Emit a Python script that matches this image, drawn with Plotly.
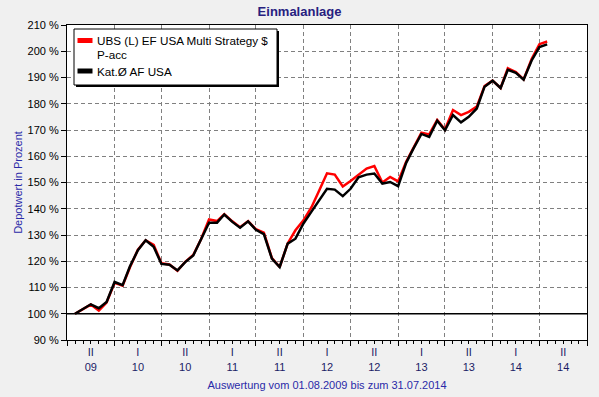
import plotly.graph_objects as go

# ---- data (month-start sampling) ----
dates = [
    "2009-08-01", "2009-09-01", "2009-10-01", "2009-11-01", "2009-12-01",
    "2010-01-01", "2010-02-01", "2010-03-01", "2010-04-01", "2010-05-01", "2010-06-01",
    "2010-07-01", "2010-08-01", "2010-09-01", "2010-10-01", "2010-11-01", "2010-12-01",
    "2011-01-01", "2011-02-01", "2011-03-01", "2011-04-01", "2011-05-01", "2011-06-01",
    "2011-07-01", "2011-08-01", "2011-09-01", "2011-10-01", "2011-11-01", "2011-12-01",
    "2012-01-01", "2012-02-01", "2012-03-01", "2012-04-01", "2012-05-01", "2012-06-01",
    "2012-07-01", "2012-08-01", "2012-09-01", "2012-10-01", "2012-11-01", "2012-12-01",
    "2013-01-01", "2013-02-01", "2013-03-01", "2013-04-01", "2013-05-01", "2013-06-01",
    "2013-07-01", "2013-08-01", "2013-09-01", "2013-10-01", "2013-11-01", "2013-12-01",
    "2014-01-01", "2014-02-01", "2014-03-01", "2014-04-01", "2014-05-01", "2014-06-01",
    "2014-07-01", "2014-07-31",
]

fund_name = "UBS (L) EF USA Multi Strategy $"
fund_name_line2 = "P-acc"
fund = [
    100.0, 101.8, 103.5, 101.2, 104.3,
    111.8, 110.7, 117.6, 124.4, 128.0, 126.2,
    119.2, 118.8, 116.4, 119.8, 122.4, 128.4,
    135.9, 135.3, 137.9, 135.2, 133.0, 135.3,
    132.2, 130.9, 121.2, 117.8, 126.8, 131.8,
    135.6, 140.6, 146.8, 153.5, 153.0, 148.5,
    150.6, 153.0, 155.3, 156.3, 150.0, 152.1,
    150.4, 157.9, 163.2, 169.0, 168.3, 173.8,
    170.2, 177.6, 175.7, 176.9, 178.9, 186.7,
    188.8, 186.0, 193.5, 192.1, 189.3, 197.0,
    202.7, 203.7,
]

category_name = "Kat.Ø AF USA"
category = [
    100.0, 101.9, 103.6, 102.1, 104.5,
    112.1, 110.9, 118.0, 124.2, 128.0, 125.5,
    119.0, 118.7, 116.5, 119.7, 122.2, 128.2,
    134.7, 134.7, 137.8, 135.0, 132.8, 135.2,
    132.0, 130.3, 121.0, 117.8, 126.7, 128.6,
    134.4, 138.9, 143.0, 147.6, 147.3, 144.8,
    147.6, 152.0, 153.0, 153.4, 149.6, 150.2,
    148.6, 157.5, 162.9, 168.5, 167.4, 173.5,
    169.9, 175.7, 172.9, 175.0, 178.2, 186.5,
    188.8, 186.0, 192.9, 191.8, 189.2, 196.5,
    201.6, 202.6,
]

x_label_pos = ["2009-10-01", "2010-04-01", "2010-10-01", "2011-04-01", "2011-10-01",
               "2012-04-01", "2012-10-01", "2013-04-01", "2013-10-01", "2014-04-01",
               "2014-10-01"]
x_label_text = ["II<br>09", "I<br>10", "II<br>10", "I<br>11", "II<br>11", "I<br>12",
                "II<br>12", "I<br>13", "II<br>13", "I<br>14", "II<br>14"]

y_ticks = list(range(90, 211, 10))

FONT = "Liberation Sans, Arial, sans-serif"
GRID = "#808080"
DASH = "4px,3px"

# plot-area geometry in pixels (used only to place the hand-drawn legend box)
L, R, T, B = 67, 587, 25, 340
W, H = R - L, B - T


def px(xp):
    return (xp - L) / W


def py(yp):
    return (B - yp) / H


fig = go.Figure()

fig.add_trace(go.Scatter(x=dates, y=fund, mode="lines", line=dict(color="#ff0000", width=2.5),
                         showlegend=False, name=fund_name + " " + fund_name_line2))
fig.add_trace(go.Scatter(x=dates, y=category, mode="lines", line=dict(color="#000000", width=2.5),
                         showlegend=False, name=category_name))
# carrier for the half-year grid axis
fig.add_trace(go.Scatter(x=[dates[0]], y=[None], xaxis="x2", mode="lines",
                         showlegend=False, hoverinfo="skip"))

legend_shapes = [
    # shadow
    dict(type="rect", xref="paper", yref="paper", x0=px(76), x1=px(279), y0=py(87), y1=py(31),
         line=dict(width=0), fillcolor="#000000", layer="above"),
    # box
    dict(type="rect", xref="paper", yref="paper", x0=px(74), x1=px(277), y0=py(85), y1=py(29),
         line=dict(color="#000000", width=1), fillcolor="#ffffff", layer="above"),
    # swatches
    dict(type="line", xref="paper", yref="paper", x0=px(77.5), x1=px(92.5), y0=py(40.5), y1=py(40.5),
         line=dict(color="#ff0000", width=5), layer="above"),
    dict(type="line", xref="paper", yref="paper", x0=px(77.5), x1=px(92.5), y0=py(71), y1=py(71),
         line=dict(color="#000000", width=5), layer="above"),
]

legend_texts = [
    dict(text=fund_name, x=px(95), y=py(40.5)),
    dict(text=fund_name_line2, x=px(95), y=py(54.5)),
    dict(text=category_name, x=px(95), y=py(71)),
]
annotations = [
    dict(text=t["text"], x=t["x"], y=t["y"], xref="paper", yref="paper",
         xanchor="left", yanchor="middle", showarrow=False,
         font=dict(family=FONT, size=11.7, color="#000000"))
    for t in legend_texts
]

fig.update_layout(
    width=599, height=397,
    paper_bgcolor="#f0f0f0", plot_bgcolor="#ffffff",
    margin=dict(l=L, r=599 - R, t=T, b=397 - B, pad=0, autoexpand=False),
    font=dict(family=FONT, size=11, color="#000000"),
    title=dict(text="<b>Einmalanlage</b>", x=0.5, xref="container", xanchor="center",
               y=1 - 11 / 397, yref="container", yanchor="middle",
               font=dict(family=FONT, size=13, color="#27207f")),
    xaxis=dict(
        type="date", range=["2009-07-01", "2015-01-01"],
        tickmode="array", tickvals=x_label_pos, ticktext=x_label_text,
        ticks="", showgrid=False, zeroline=False, ticklabelstandoff=2,
        showline=True, linecolor="#000000", linewidth=1, mirror=True,
        tickfont=dict(family=FONT, size=11, color="#1c1c66"),
        minor=dict(ticks="outside", ticklen=3, tickcolor="#000000", tickmode="linear",
                   tick0="2009-07-01", dtick="M1", showgrid=False),
        title=dict(text="Auswertung vom 01.08.2009 bis zum 31.07.2014", standoff=9,
                   font=dict(family=FONT, size=11, color="#2a2aa8")),
        automargin=False,
    ),
    xaxis2=dict(
        type="date", range=["2009-07-01", "2015-01-01"], overlaying="x", side="bottom",
        tickmode="linear", tick0="2009-07-01", dtick="M6",
        ticks="outside", ticklen=5, tickcolor="#000000",
        showticklabels=False, showgrid=True, gridcolor=GRID, griddash=DASH, gridwidth=1,
        zeroline=False, showline=False, automargin=False,
    ),
    yaxis=dict(
        range=[90, 210], tickmode="array", tickvals=y_ticks,
        ticktext=[f"{v} %" for v in y_ticks],
        ticks="outside", ticklen=5, tickcolor="#000000",
        showgrid=True, gridcolor=GRID, griddash=DASH, gridwidth=1, zeroline=False,
        showline=True, linecolor="#000000", linewidth=1, mirror=True,
        tickfont=dict(family=FONT, size=11, color="#000000"),
        title=dict(text="Depotwert in Prozent", standoff=2,
                   font=dict(family=FONT, size=11, color="#2a2aa8")),
        automargin=False,
    ),
    showlegend=False,
    hovermode=False,
    shapes=[dict(type="line", xref="paper", x0=0, x1=1, yref="y", y0=100, y1=100,
                 line=dict(color="#000000", width=1.5), layer="above")] + legend_shapes,
    annotations=annotations,
)

fig.write_html("out.html", config={"displayModeBar": False},
               post_script="document.body.style.margin='0';")
